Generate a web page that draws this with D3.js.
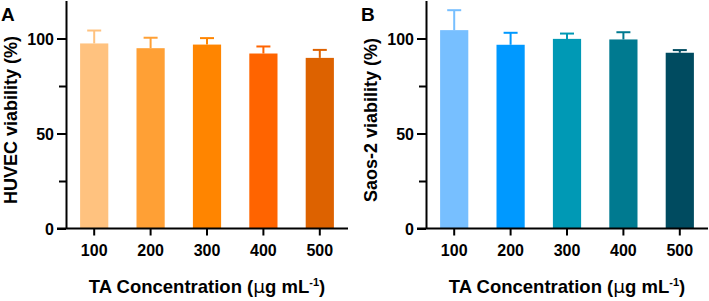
<!DOCTYPE html>
<html><head><meta charset="utf-8">
<script src="https://cdn.jsdelivr.net/npm/d3@7"></script>
<style>body{margin:0;background:#fff}svg{display:block}text{font-family:"Liberation Sans",Arial,sans-serif;font-weight:bold;fill:#000}</style>
</head><body><svg id="c" width="709" height="301"></svg>
<script>
const categories = ["100","200","300","400","500"];
const huvecMean = [97.4, 94.9, 96.8, 92.1, 89.8];
const huvecErr  = [6.8, 5.5, 3.4, 3.7, 4.2];
const saosMean  = [104.4, 96.7, 99.8, 99.5, 92.5];
const saosErr   = [10.5, 6.3, 2.8, 3.8, 1.4];
const huvecColors = ["#FFC27F","#FFA035","#FF8500","#FF6400","#DD6200"];
const saosColors  = ["#77BFFF","#0099FF","#0099B5","#007A90","#004B60"];
const yTicks = [0, 50, 100];
const yMinor = [25, 75];

const svg = d3.select("#c");
const y = d3.scaleLinear().domain([0, 120]).range([228.5, 0.5]);

function panel(x0, label, ytitle, means, errs, colors) {
  const g = svg.append("g");
  const x = d3.scaleBand().domain(categories).range([x0, x0 + 282]).paddingInner(0.5).paddingOuter(0.25);
  g.selectAll("rect").data(means).enter().append("rect")
    .attr("x", (d,i) => x(categories[i])).attr("width", x.bandwidth())
    .attr("y", d => y(d)).attr("height", d => y(0) - y(d))
    .attr("fill", (d,i) => colors[i]);
  means.forEach((m,i) => {
    const cx = x(categories[i]) + x.bandwidth()/2;
    g.append("line").attr("x1", cx).attr("x2", cx).attr("y1", y(m)).attr("y2", y(m+errs[i]))
      .attr("stroke", colors[i]).attr("stroke-width", 2);
    g.append("line").attr("x1", cx-7).attr("x2", cx+7).attr("y1", y(m+errs[i])).attr("y2", y(m+errs[i]))
      .attr("stroke", colors[i]).attr("stroke-width", 2);
  });
  const ya = g.append("g").attr("transform", `translate(${x0},0)`)
    .call(d3.axisLeft(y).tickValues(yTicks).tickSize(9).tickPadding(3).tickSizeOuter(0));
  ya.append("g").call(d3.axisLeft(y).tickValues(yMinor).tickSize(7).tickFormat(""));
  ya.selectAll("path,line").attr("stroke", "#000").attr("stroke-width", 2);
  ya.selectAll("g > g > g path").remove();
  ya.selectAll("text").style("font-size", "16px").attr("dy", "0.36em");
  const xa = g.append("g").attr("transform", `translate(0,${y(0)})`)
    .call(d3.axisBottom(x).tickSize(7).tickPadding(9).tickSizeOuter(0));
  xa.select("path").attr("d", `M${x0-9},0H${x0+282}`);
  xa.selectAll("path,line").attr("stroke", "#000").attr("stroke-width", 2);
  xa.selectAll("text").style("font-size", "16px");
  g.append("text").attr("x", x0 + 141).attr("y", 293).attr("text-anchor", "middle")
    .style("font-size", "18.5px")
    .html('TA Concentration (<tspan font-family="DejaVu Sans" font-weight="normal">μ</tspan>g mL<tspan dy="-7" font-size="11px">-1</tspan><tspan dy="7">)</tspan>');
  g.append("text").attr("transform", `translate(${x0-49},120) rotate(-90)`).attr("text-anchor", "middle")
    .style("font-size", "18px").text(ytitle);
  g.append("text").attr("x", x0 - 65).attr("y", 20.5).style("font-size", "19px").text(label);
}
panel(66, "A", "HUVEC viability (%)", huvecMean, huvecErr, huvecColors);
panel(426, "B", "Saos-2 viability (%)", saosMean, saosErr, saosColors);
</script></body></html>
